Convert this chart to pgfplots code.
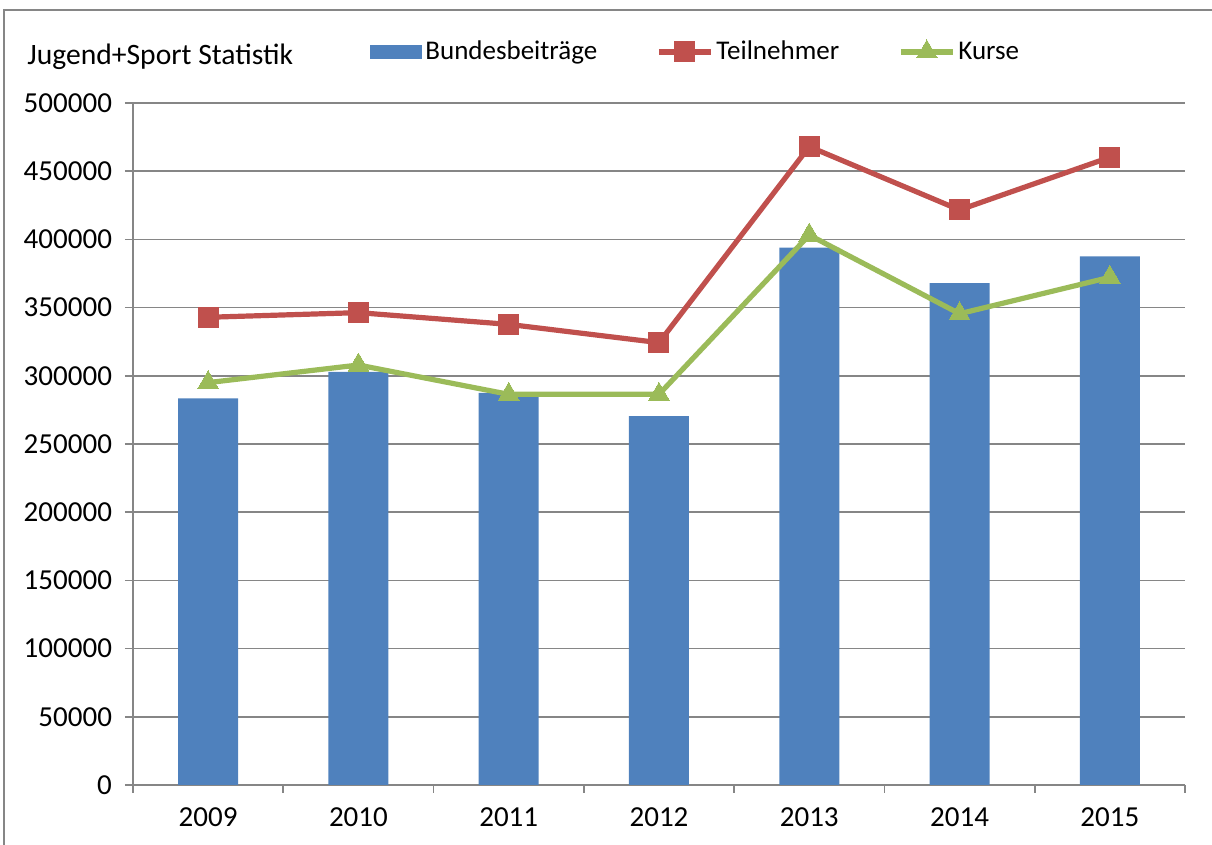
\documentclass[border=0pt]{standalone}
\usepackage{pgfplots}
\pgfplotsset{compat=1.18}
\usepackage{fontspec}
\setmainfont{Carlito}
\definecolor{cblue}{HTML}{4F81BD}
\definecolor{cred}{HTML}{C0504D}
\definecolor{cgreen}{HTML}{9BBB59}
\definecolor{cgrid}{HTML}{868686}
\pgfplotsset{
  longline legend/.style={legend image code/.code={\draw[mark repeat=2,mark phase=2,##1] plot coordinates {(0pt,0pt) (13pt,0pt) (26pt,0pt)};}},
  barrect legend/.style={legend image code/.code={\fill[cblue] (0pt,-3.5pt) rectangle (26pt,3.5pt);}},
}
\begin{document}
\begin{tikzpicture}
\useasboundingbox (0,0) rectangle (606pt,422.5pt);
\draw[cgrid,line width=0.8pt] (2pt,0) -- (2pt,417.5pt) -- (606pt,417.5pt);
\node[anchor=west,inner sep=0pt,font=\fontsize{14.8}{17}\selectfont] at (13.5pt,394pt) {Jugend+Sport Statistik};
\begin{axis}[
  at={(66.5pt,30pt)}, anchor=south west,
  scale only axis, width=526pt, height=341pt,
  xmin=-0.5, xmax=6.5, ymin=0, ymax=500000,
  axis lines*=left,
  axis line style={cgrid,line width=0.8pt},
  xtick={0,...,6},
  xticklabels={2009,2010,2011,2012,2013,2014,2015},
  major x tick style={draw=none},
  minor xtick={-0.5,0.5,...,6.5},
  minor x tick style={cgrid,line width=0.8pt},
  minor tick length=4pt,
  ytick={0,50000,...,500000},
  major y tick style={cgrid,line width=0.8pt},
  major tick length=4pt,
  tick align=outside,
  ymajorgrids, grid style={cgrid,line width=0.8pt},
  scaled y ticks=false,
  /pgf/number format/assume math mode=true,
  yticklabel={\pgfmathprintnumber[fixed,1000 sep={}]{\tick}},
  tick label style={font=\fontsize{14.5}{17}\selectfont, black},
  xticklabel style={yshift=-4pt},
  yticklabel style={xshift=-3pt},
  legend columns=3,
  legend style={at={(0.2253,1.0748)}, anchor=west, draw=none, fill=none, inner sep=0pt,
     font=\fontsize{13.5}{16}\selectfont,
     /tikz/every even column/.append style={column sep=28pt},
     nodes={inner sep=1.5pt}},
]
\addplot[ybar, bar width=30pt, fill=cblue, draw=none, barrect legend]
  coordinates {(0,283500) (1,302800) (2,287400) (3,270500) (4,393900) (5,368000) (6,387600)};
\addlegendentry{Bundesbeiträge}
\addplot[cred, line width=2.6pt, mark=square*, mark size=5pt, mark options={fill=cred,draw=cred,line width=0pt}, longline legend]
  coordinates {(0,342900) (1,346300) (2,337700) (3,324300) (4,468000) (5,421600) (6,460200)};
\addlegendentry{Teilnehmer}
\addplot[cgreen, line width=2.6pt, mark=triangle*, mark size=6pt, mark options={fill=cgreen,draw=cgreen,line width=0pt}, longline legend]
  coordinates {(0,295000) (1,307900) (2,286400) (3,286400) (4,403200) (5,345500) (6,372200)};
\addlegendentry{Kurse}
\end{axis}
\end{tikzpicture}
\end{document}
